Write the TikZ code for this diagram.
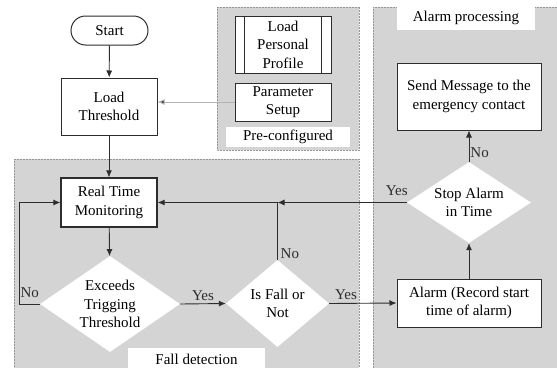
\documentclass[tikz,border=0pt]{standalone}
\usepackage{fontspec}
\setmainfont{Liberation Serif}
\usetikzlibrary{shapes.geometric,arrows.meta}
\definecolor{regionfill}{RGB}{212,212,212}
\definecolor{regionedge}{RGB}{150,150,150}
\definecolor{ink}{RGB}{45,45,45}
\tikzset{
  region/.style={fill=regionfill, draw=regionedge, densely dotted, line width=0.5pt},
  tag/.style={fill=white, inner sep=0pt, align=center},
  box/.style={draw=ink, fill=white, line width=1pt, align=center, inner sep=0pt},
  decision/.style={shape=diamond, fill=white, draw=none, align=center, inner sep=0pt, aspect=1.5},
  arr/.style={draw=ink, line width=0.9pt, -{Latex[length=7pt,width=6pt]}},
  arrlight/.style={draw=black!30, line width=1pt, -{Latex[length=7pt,width=6pt,fill=ink]}},
  lbl/.style={inner sep=1pt, text=ink}
}
\begin{document}
\begin{tikzpicture}[x=1pt,y=-1pt,font=\fontsize{15}{18.5}\selectfont]
\useasboundingbox (0,0) rectangle (557,367);
\fill[white] (0,0) rectangle (557,367);

% grouping regions
\draw[region] (217,7) rectangle (359,150);
\draw[region] (14,159) rectangle (359,370);
\draw[region] (373,7) rectangle (560,370);

% region captions
\node[tag, minimum width=124, minimum height=20] (cappre) at (288,137) {Pre-configured};
\node[tag, minimum width=137, minimum height=22] (capfall) at (196.5,359) {Fall detection};
\node[tag, minimum width=138, minimum height=25] (capalarm) at (466,17.5) {Alarm processing};

% main column
\node[box, rounded corners=14.5, minimum width=77, minimum height=29] (start) at (109.5,30.5) {Start};
\node[box, minimum width=96, minimum height=57] (load) at (109,106.5) {Load\\Threshold};
\node[box, minimum width=96, minimum height=49, line width=1.2pt] (rtm) at (109,202.5) {Real Time\\Monitoring};
\node[decision, minimum width=140, minimum height=96] (exc) at (110,304) {Exceeds\\Trigging\\Threshold};
\node[decision, minimum width=103, minimum height=87] (fall) at (277.5,303.5) {Is Fall or\\Not};

% pre-configured inputs
\node[box, minimum width=96, minimum height=57] (profile) at (283,44.5) {Load\\Personal\\Profile};
\draw[ink, line width=1pt] ([xshift=10]profile.north west) -- ([xshift=10]profile.south west);
\draw[ink, line width=1pt] ([xshift=-10]profile.north east) -- ([xshift=-10]profile.south east);
\node[box, minimum width=96, minimum height=38] (param) at (283,102) {Parameter\\Setup};

% alarm handling
\node[box, minimum width=144, minimum height=48] (alarm) at (469,303) {Alarm (Record start\\time of alarm)};
\node[decision, minimum width=124, minimum height=81] (stop) at (469,202.5) {Stop Alarm\\in Time};
\node[box, minimum width=144, minimum height=67] (send) at (469,96.5) {Send Message to the\\emergency contact};

% connectors
\draw[arr] (start) -- (load);
\draw[arrlight] (param.west) -- (param.west -| load.east);
\draw[arr] (load) -- (rtm);
\draw[arr] (rtm) -- (exc);
\draw[arr] (exc.west) -- ++(-20,0) node[midway, above, lbl, inner sep=6pt] {No} |- (rtm.west);
\draw[arr] (exc.east) -- (fall.west) node[midway, above, lbl, inner sep=3pt] {Yes};
\draw[arr] (fall.east) -- (alarm.west) node[pos=0.25, above, lbl, inner sep=3pt] {Yes};
\coordinate (join) at (fall.north |- rtm.east);
\draw[arr] (fall.north) -- (join) -- (rtm.east);
\node[lbl, anchor=south west] (nofall) at ([xshift=2pt, yshift=0pt]fall.north) {No};
\draw[arr] (stop.west) -- (join);
\node[lbl, anchor=south] (yesstop) at ([xshift=-10pt, yshift=6pt]stop.west) {Yes};
\draw[arr] (alarm) -- (stop);
\draw[arr] (stop) -- (send) node[pos=0.3, right, lbl] {No};
\end{tikzpicture}
\end{document}
